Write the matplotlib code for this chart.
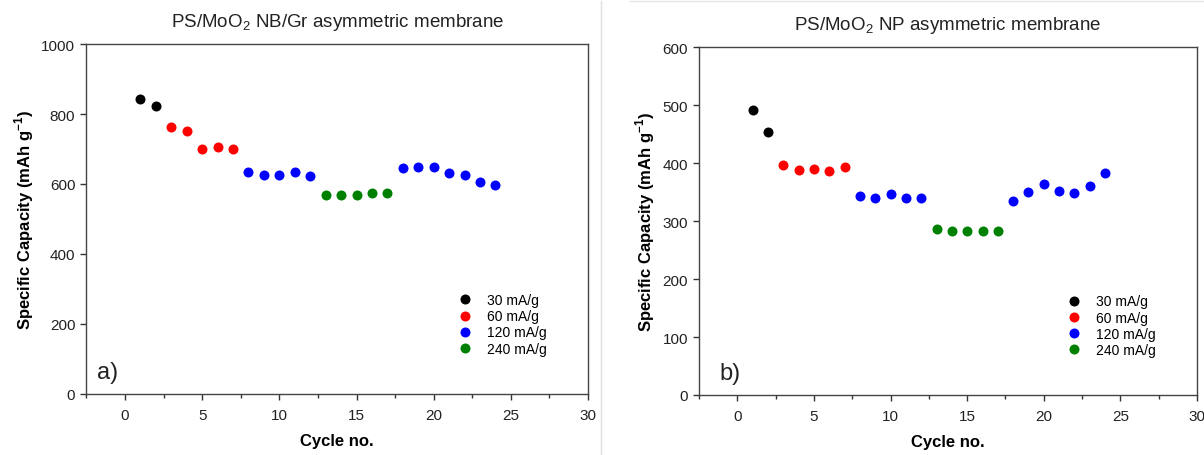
import matplotlib
matplotlib.use("Agg")
import matplotlib.pyplot as plt
from matplotlib.lines import Line2D
from matplotlib.ticker import MultipleLocator

plt.rcParams['font.family'] = ['Liberation Sans', 'DejaVu Sans']

cycles_30 = [1, 2]
cycles_60 = [3, 4, 5, 6, 7]
cycles_120a = [8, 9, 10, 11, 12]
cycles_240 = [13, 14, 15, 16, 17]
cycles_120b = [18, 19, 20, 21, 22, 23, 24]

# Panel a) PS/MoO2 NB/Gr
a_30 = [843, 822]
a_60 = [762, 752, 700, 705, 700]
a_120a = [635, 625, 625, 635, 623]
a_240 = [568, 568, 568, 575, 575]
a_120b = [645, 648, 650, 632, 626, 605, 597]

# Panel b) PS/MoO2 NP
b_30 = [492, 454]
b_60 = [397, 388, 389, 387, 394]
b_120a = [343, 340, 346, 339, 339]
b_240 = [286, 282, 283, 282, 282]
b_120b = [335, 350, 364, 352, 348, 360, 383]

labels = ['30 mA/g', '60 mA/g', '120 mA/g', '240 mA/g']
colors = ['black', 'red', 'blue', 'green']

fig = plt.figure(figsize=(12.04, 4.56), dpi=100)
axA = fig.add_axes([0.0718, 0.1338, 0.4166, 0.7675])
axB = fig.add_axes([0.5806, 0.1316, 0.4136, 0.7630])


def draw(ax, d30, d60, d120a, d240, d120b, ymax, ystep, title, tag, tagx, legx, legy):
    ms = 7.2
    ax.plot(cycles_30, d30, 'o', color=colors[0], ms=ms, mec='none', label=labels[0])
    ax.plot(cycles_60, d60, 'o', color=colors[1], ms=ms, mec='none', label=labels[1])
    ax.plot(cycles_120a + cycles_120b, d120a + d120b, 'o', color=colors[2], ms=ms, mec='none', label=labels[2])
    ax.plot(cycles_240, d240, 'o', color=colors[3], ms=ms, mec='none', label=labels[3])
    ax.set_xlim(-2.5, 30)
    ax.set_ylim(0, ymax)
    ax.xaxis.set_major_locator(MultipleLocator(5))
    ax.xaxis.set_minor_locator(MultipleLocator(2.5))
    ax.yaxis.set_major_locator(MultipleLocator(ystep))
    ax.tick_params(axis='both', which='major', direction='out', length=4, width=1,
                   labelsize=11, colors='#333333', labelcolor='#222222', pad=4)
    ax.tick_params(axis='x', which='minor', direction='out', length=3, width=1, colors='#333333')
    ax.tick_params(axis='x', pad=6)
    for s in ax.spines.values():
        s.set_color('#444444')
        s.set_linewidth(1.0)
    ax.set_xlabel('Cycle no.', fontsize=12, fontweight='bold', labelpad=8)
    ax.set_ylabel('Specific Capacity (mAh g$^{\\mathregular{-1}}$)', fontsize=12, fontweight='bold', labelpad=4)
    ax.set_title(title, fontsize=13.5, pad=13, color='#222222')
    ax.text(tagx, 0.045, tag, transform=ax.transAxes, fontsize=17, color='#222222')
    ax.legend(loc='lower left', bbox_to_anchor=(legx, legy), frameon=False, fontsize=10,
              handletextpad=1.1, labelspacing=0.15, borderpad=0, handlelength=1.0,
              markerscale=1.0)


draw(axA, a_30, a_60, a_120a, a_240, a_120b, 1000, 200,
     'PS/MoO$_{\\mathregular{2}}$ NB/Gr asymmetric membrane', 'a)', 0.022, 0.727, 0.09)
draw(axB, b_30, b_60, b_120a, b_240, b_120b, 600, 100,
     'PS/MoO$_{\\mathregular{2}}$ NP asymmetric membrane', 'b)', 0.04, 0.725, 0.09)

# faint panel border of the second image
fig.add_artist(Line2D([630/1204, 1.0], [1 - 2/456, 1 - 2/456], color='#e6e6e6', lw=1))
fig.add_artist(Line2D([600.5/1204, 600.5/1204], [1 - 2/456, 0.0], color='#e0e0e0', lw=1))

fig.savefig('out.png', dpi=100)
